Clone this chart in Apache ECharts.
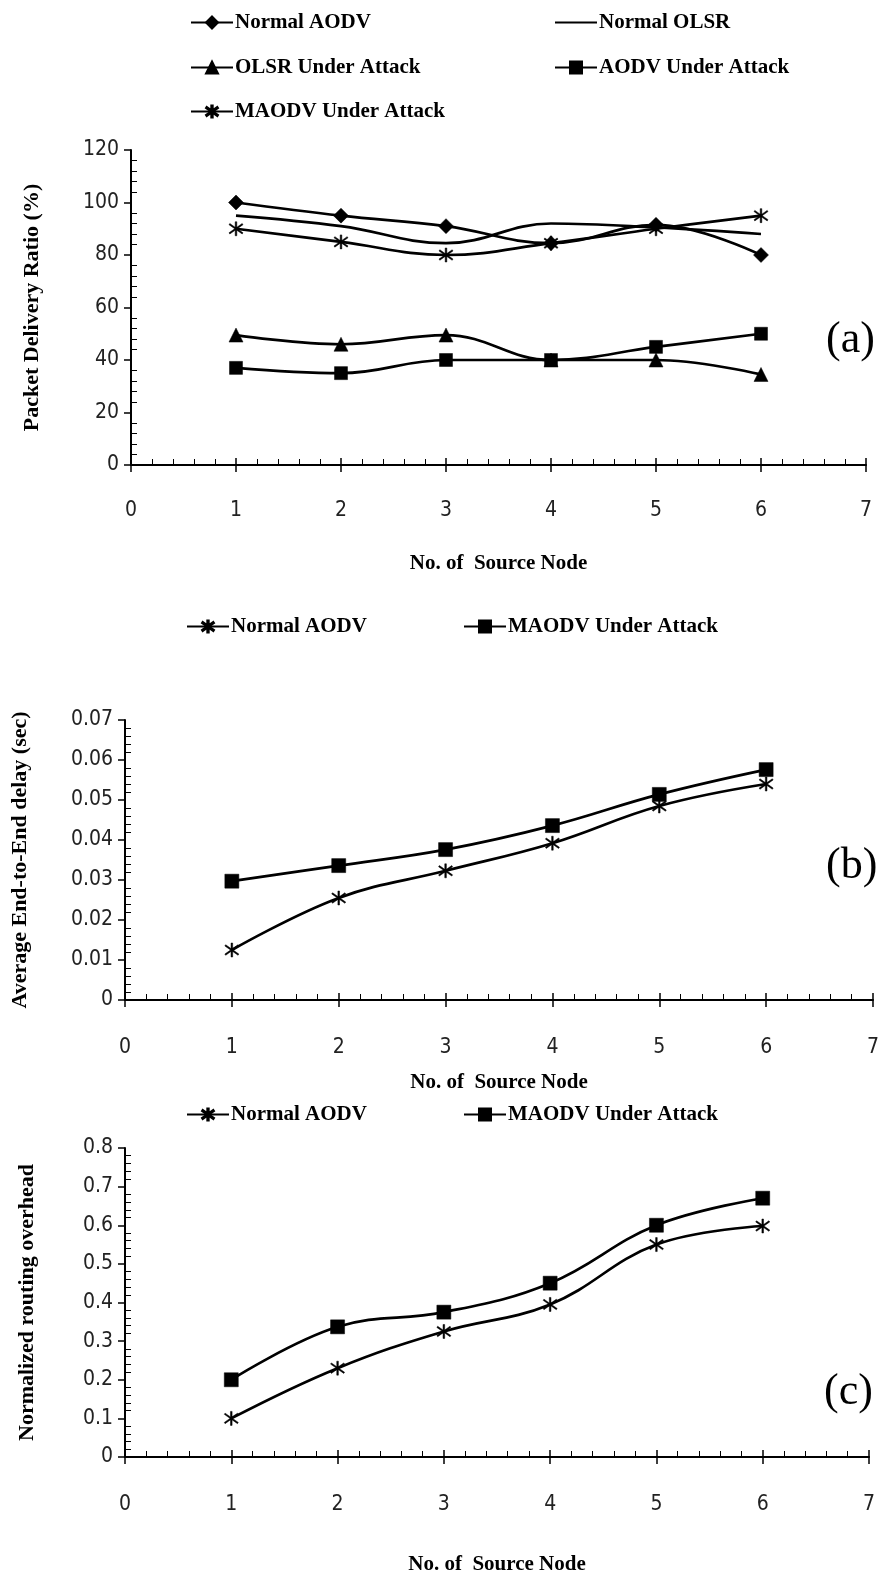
<!DOCTYPE html>
<html>
<head>
<meta charset="utf-8">
<script src="https://cdn.jsdelivr.net/npm/echarts@6/dist/echarts.min.js"></script>
<style>
  html, body { margin: 0; padding: 0; background: #fff; }
  #chart { width: 883px; height: 1576px; }
</style>
</head>
<body>
<div id="chart"></div>
<script>
// x values (no. of source node)
const nodes = [1, 2, 3, 4, 5, 6];
const xTicks = [0, 1, 2, 3, 4, 5, 6, 7];

// (a) packet delivery ratio (%)
const pdrNormalAodv = [100, 95, 91, 84.5, 91.5, 80];
const pdrNormalOlsr = [95, 91, 84.5, 92, 90.5, 88];
const pdrOlsrAttack = [49.5, 46, 49.5, 40, 40, 34.5];
const pdrAodvAttack = [37, 35, 40, 40, 45, 50];
const pdrMaodvAttack = [90, 85, 80, 84.5, 90, 95];

// (b) average end-to-end delay (sec)
const delayNormalAodv = [0.0125, 0.0255, 0.0323, 0.0392, 0.0485, 0.054];
const delayMaodvAttack = [0.0297, 0.0336, 0.0376, 0.0436, 0.0514, 0.0576];

// (c) normalized routing overhead
const nroNormalAodv = [0.1, 0.23, 0.325, 0.395, 0.55, 0.598];
const nroMaodvAttack = [0.2, 0.337, 0.375, 0.45, 0.6, 0.67];

const serif = '"Liberation Serif", "DejaVu Serif", serif';
const narrow = '"Liberation Sans Narrow", "DejaVu Sans Condensed", sans-serif';
const star = 'path://M9,0 L11,0 L11,20 L9,20 Z M1.3,4.2 L2.3,2.5 L18.7,15.8 L17.7,17.5 Z M17.7,2.5 L18.7,4.2 L2.3,17.5 L1.3,15.8 Z';

function pairs(ys) {
  return nodes.map((x, i) => [x, ys[i]]);
}

const grids = [
  { left: 131, right: 17, top: 150, height: 315 },
  { left: 125, right: 10, top: 720, height: 280 },
  { left: 125, right: 14, top: 1148, height: 312 }
];

function xAxes(gi, nameGap, labelMargin) {
  return [
    {
      gridIndex: gi, type: 'value', position: 'bottom', min: 0, max: 7, interval: 1,
      name: 'No. of  Source Node', nameLocation: 'middle', nameGap: nameGap,
      nameTextStyle: { fontFamily: serif, fontWeight: 'bold', fontSize: 21, color: '#000' },
      axisLine: { lineStyle: { color: '#000', width: 2 } },
      axisTick: { length: 7, lineStyle: { color: '#000', width: 1.5 } },
      axisLabel: { margin: labelMargin, fontFamily: narrow, fontSize: 21, color: '#222',
        customValues: xTicks },
      splitLine: { show: false }
    },
    {
      gridIndex: gi, type: 'value', position: 'bottom', min: 0, max: 7, interval: 1,
      axisLine: { show: false },
      axisTick: { inside: true, length: 7, lineStyle: { color: '#000', width: 1.5 } },
      minorTick: { show: true, splitNumber: 5, length: 6, lineStyle: { color: '#000', width: 1 } },
      axisLabel: { show: false },
      splitLine: { show: false }
    }
  ];
}

function yAxes(gi, max, interval, name, nameGap) {
  return [
    {
      gridIndex: gi, type: 'value', position: 'left', min: 0, max: max, interval: interval,
      name: name, nameLocation: 'middle', nameGap: nameGap,
      nameTextStyle: { fontFamily: serif, fontWeight: 'bold', fontSize: 22, color: '#000' },
      axisLine: { show: true, lineStyle: { color: '#000', width: 2 } },
      axisTick: { show: true, length: 7, lineStyle: { color: '#000', width: 1.5 } },
      axisLabel: { margin: 12, fontFamily: narrow, fontSize: 21, color: '#222' },
      splitLine: { show: false }
    },
    {
      gridIndex: gi, type: 'value', position: 'left', min: 0, max: max, interval: interval,
      axisLine: { show: false },
      axisTick: { show: false, inside: true },
      minorTick: { show: true, splitNumber: 5, length: 6, lineStyle: { color: '#000', width: 1 } },
      axisLabel: { show: false },
      splitLine: { show: false }
    }
  ];
}

function line(name, gi, ys, symbol, size) {
  return {
    name: name, type: 'line', xAxisIndex: gi * 2, yAxisIndex: gi * 2,
    data: pairs(ys), smooth: 0.4,
    symbol: symbol, symbolSize: size, showSymbol: symbol !== 'none',
    lineStyle: { color: '#000', width: 2.7 },
    itemStyle: { color: '#000', borderColor: '#000', borderWidth: 0.5 },
    z: 3
  };
}

// legend labels, the series names carry a panel prefix so icons stay distinct
const legendText = name => name.slice(2);
function legendItem(name, left, top, noMarker) {
  const item = noMarker ? { name: name, itemStyle: { opacity: 0 } } : name;
  return {
    data: [item], left: left, top: top, itemWidth: 42, itemHeight: 15, itemGap: 0,
    formatter: legendText,
    textStyle: { fontFamily: serif, fontWeight: 'bold', fontSize: 21, color: '#000', padding: [0, 0, 0, -3] }
  };
}

const option = {
  animation: false,
  grid: grids,
  xAxis: [].concat(xAxes(0, 88, 35), xAxes(1, 72, 37), xAxes(2, 97, 37)),
  yAxis: [].concat(
    yAxes(0, 120, 20, 'Packet Delivery Ratio (%)', 88),
    yAxes(1, 0.07, 0.01, 'Average End-to-End delay (sec)', 94),
    yAxes(2, 0.8, 0.1, 'Normalized routing overhead', 87)
  ),
  legend: [
    legendItem('a:Normal AODV', 185, 7),
    legendItem('a:Normal OLSR', 549, 7, true),
    legendItem('a:OLSR Under Attack', 185, 52),
    legendItem('a:AODV Under Attack', 549, 52),
    legendItem('a:MAODV Under Attack', 185, 96),
    legendItem('b:Normal AODV', 181, 611),
    legendItem('b:MAODV Under Attack', 458, 611),
    legendItem('c:Normal AODV', 181, 1099),
    legendItem('c:MAODV Under Attack', 458, 1099)
  ],
  graphic: [
    { type: 'text', left: 826, top: 318, style: { text: '(a)', fontFamily: serif, fontSize: 44, fill: '#000' } },
    { type: 'text', left: 826, top: 844, style: { text: '(b)', fontFamily: serif, fontSize: 44, fill: '#000' } },
    { type: 'text', left: 824, top: 1370, style: { text: '(c)', fontFamily: serif, fontSize: 44, fill: '#000' } }
  ],
  series: [
    line('a:Normal AODV', 0, pdrNormalAodv, 'diamond', 15),
    line('a:Normal OLSR', 0, pdrNormalOlsr, 'none', 0),
    line('a:OLSR Under Attack', 0, pdrOlsrAttack, 'triangle', 14),
    line('a:AODV Under Attack', 0, pdrAodvAttack, 'rect', 13),
    line('a:MAODV Under Attack', 0, pdrMaodvAttack, star, 14),
    line('b:Normal AODV', 1, delayNormalAodv, star, 14),
    line('b:MAODV Under Attack', 1, delayMaodvAttack, 'rect', 14),
    line('c:Normal AODV', 2, nroNormalAodv, star, 14),
    line('c:MAODV Under Attack', 2, nroMaodvAttack, 'rect', 14)
  ]
};

const chart = echarts.init(document.getElementById('chart'));
chart.setOption(option);
</script>
</body>
</html>
